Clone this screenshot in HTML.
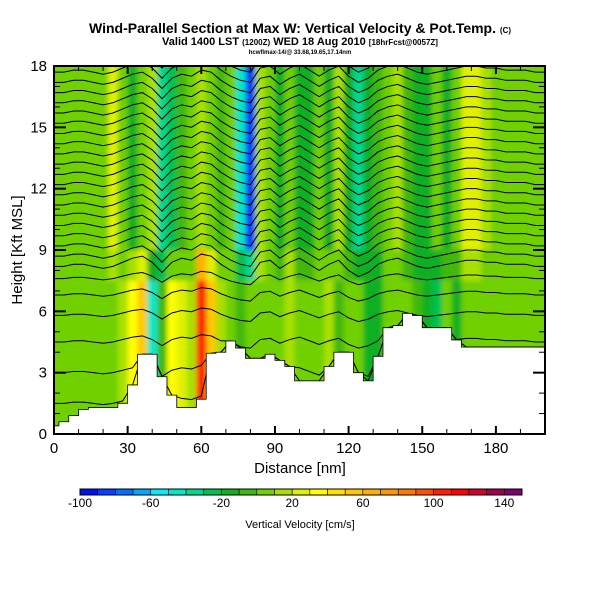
<!DOCTYPE html>
<html><head><meta charset="utf-8"><style>
body{margin:0;background:#fff;width:600px;height:600px;overflow:hidden;font-family:"Liberation Sans",sans-serif}
</style></head><body>
<svg id="chart" width="600" height="600" xmlns="http://www.w3.org/2000/svg">
<text x="300" y="33" text-anchor="middle" font-size="14" font-weight="bold">Wind-Parallel Section at Max W: Vertical Velocity &amp; Pot.Temp. <tspan font-size="8">(C)</tspan></text>
<text x="300" y="45" text-anchor="middle" font-size="11" font-weight="bold">Valid 1400 LST <tspan font-size="8">(1200Z)</tspan> WED 18 Aug 2010 <tspan font-size="8">[18hrFcst@0057Z]</tspan></text>
<text x="300" y="54" text-anchor="middle" font-size="6" font-weight="bold">hcwflmax-14/@ 33.68,19.65,17.14nm</text>
<defs><clipPath id="pc"><rect x="54" y="66" width="491" height="368"/></clipPath>
<filter id="bl"><feGaussianBlur stdDeviation="2.5"/></filter></defs>
<g id="field" clip-path="url(#pc)" filter="url(#bl)"></g>
<g id="contours" clip-path="url(#pc)"></g>
<g id="terrain" clip-path="url(#pc)"></g>
<rect x="54" y="66" width="491" height="368" fill="none" stroke="#000" stroke-width="2"/>
<g id="axes"></g>
<text x="300" y="473" text-anchor="middle" font-size="15">Distance [nm]</text>
<text transform="translate(22,250) rotate(-90)" text-anchor="middle" font-size="15">Height [Kft MSL]</text>
<g id="cbar"></g>
<text x="300" y="528" text-anchor="middle" font-size="11">Vertical Velocity [cm/s]</text>
</svg>
<script>
const distances=[0,4,8,12,16,20,24,28,32,36,40,44,48,52,56,60,64,68,72,76,80,84,88,92,96,100,104,108,112,116,120,124,128,132,136,140,144,148,152,156,160,164,168,172,176,180,184,188,192,196,200];
const terrainKft=[0.4,0.6,0.9,1.2,1.3,1.3,1.3,1.5,2.4,3.9,3.9,2.8,1.9,1.3,1.3,1.7,3.95,4.0,4.55,4.2,3.7,3.7,3.9,3.6,3.3,2.6,2.6,2.6,3.3,4.0,4.0,3.0,2.6,3.8,5.2,5.3,5.9,5.8,5.2,5.2,5.2,4.6,4.25,4.25,4.25,4.25,4.25,4.25,4.25,4.25,4.25];
const upperW=[0,0,5,0,5,5,20,0,-15,0,15,-40,-25,-10,0,15,5,-10,0,-50,-85,15,0,-15,5,-15,-20,0,-15,15,-15,-35,-15,-10,5,10,-10,-15,-15,0,-15,5,20,20,15,5,0,0,5,0,0];
const lowerW=[5,5,0,5,5,0,5,15,35,50,-50,-10,35,25,15,105,50,15,0,-10,5,5,0,5,15,0,0,5,15,-10,5,0,-15,-15,0,5,0,-10,-15,-25,0,-15,0,5,0,5,0,5,0,5,0];
const thetaLevels=[1.5,3,4.5,5.8,6.8,7.6,8.2,8.7,9.2,9.7,10.2,10.7,11.2,11.7,12.2,12.7,13.2,13.7,14.2,14.7,15.2,15.7,16.2,16.7,17.2,17.7,18.2];
const thetaWiggle=[0,0,0.1,0.1,0,-0.1,0,0.2,0.4,0.5,0.2,-0.3,0.2,0.4,0.3,0.6,0.5,0.1,-0.2,-0.4,-0.5,0.2,0.3,-0.1,0.2,0.4,0.1,-0.2,0.1,0.3,-0.2,-0.5,-0.3,0.1,0.3,0.4,0.2,0,-0.1,0,0.1,0.2,0.3,0.3,0.2,0.2,0.1,0.1,0.1,0,0];
const cbarTicks=[-100,-60,-20,20,60,100,140];
const xTicks=[0,30,60,90,120,150,180];
const yTicks=[0,3,6,9,12,15,18];
const colors=['#0010f0','#0040ff','#0070ff','#00a8ff','#00f0ff','#00e8c8','#00d890','#00c050','#10b020','#40b810','#70d000','#a8e000','#e0f000','#ffff00','#ffe000','#ffc800','#ffb000','#ff9800','#ff7800','#ff5000','#ff2000','#ff0000','#d00030','#a00050','#800070'];
const NS='http://www.w3.org/2000/svg';
const X=d=>54+d*491/200, Y=h=>434-h*368/18;
function col(v){let i=Math.floor((v+100)/10);return colors[Math.max(0,Math.min(24,i))];}
function mk(t,a,p){const e=document.createElementNS(NS,t);for(const k in a)e.setAttribute(k,a[k]);p.appendChild(e);return e;}
const field=document.getElementById('field');
const dw=491/200*4;
distances.forEach((d,i)=>{
  const x=X(d)-dw/2;
  let r=mk('rect',{x:x,y:Y(18.5),width:dw+0.5,height:Y(9)-Y(18.5),fill:col(upperW[i])},field);
  
  
  let m=mk('rect',{x:x,y:Y(9),width:dw+0.5,height:Y(7.5)-Y(9),fill:col((upperW[i]+lowerW[i])/2)},field);
  
  
  let l=mk('rect',{x:x,y:Y(7.5),width:dw+0.5,height:Y(-1)-Y(7.5),fill:col(lowerW[i])},field);
  
  
});
const cg=document.getElementById('contours');
thetaLevels.forEach(lv=>{
  const amp=lv<8?0.6:1;
  const pts=distances.map((d,i)=>X(d)+','+Y(Math.max(lv+thetaWiggle[i]*amp,terrainKft[i]))).join(' ');
  const p=mk('polyline',{points:pts,fill:'none',stroke:'#000','stroke-width':1},cg);
  
  
});
const tg=document.getElementById('terrain');
let tp='M'+X(0)+','+Y(-1);
distances.forEach((d,i)=>{tp+=' L'+(X(d)-dw/2)+','+Y(terrainKft[i])+' L'+(X(d)+dw/2)+','+Y(terrainKft[i]);});
tp+=' L'+X(202)+','+Y(-1)+' Z';
const tpe=mk('path',{d:tp,fill:'#fff',stroke:'#000','stroke-width':0.8},tg);


const ax=document.getElementById('axes');
for(let d=0;d<=200;d+=10){const maj=d%30==0;
  mk('line',{x1:X(d),x2:X(d),y1:434,y2:434-(maj?8:5),stroke:'#000','stroke-width':maj?2:1},ax);
  mk('line',{x1:X(d),x2:X(d),y1:66,y2:66+(maj?8:5),stroke:'#000','stroke-width':maj?2:1},ax);}
for(let h=0;h<=18;h++){const maj=h%3==0;
  mk('line',{x1:54,x2:54+(maj?12:6),y1:Y(h),y2:Y(h),stroke:'#000','stroke-width':maj?2:1},ax);
  mk('line',{x1:545,x2:545-(maj?12:6),y1:Y(h),y2:Y(h),stroke:'#000','stroke-width':maj?2:1},ax);}
xTicks.forEach(t=>{const e=mk('text',{x:X(t),y:453,'text-anchor':'middle','font-size':15},ax);e.textContent=t;
  
  });
yTicks.forEach(t=>{const e=mk('text',{x:47,y:Y(t)+5,'text-anchor':'end','font-size':15},ax);e.textContent=t;
  
  });
const cb=document.getElementById('cbar');
const cw=442/25;
colors.forEach((c,i)=>{const r=mk('rect',{x:80+i*cw,y:489,width:cw,height:6,fill:c,stroke:'#000','stroke-width':0.6},cb);
  
  });
mk('rect',{x:80,y:489,width:442,height:6,fill:'none',stroke:'#000','stroke-width':1},cb);
cbarTicks.forEach(t=>{const e=mk('text',{x:80+(t+100)/10*cw,y:507,'text-anchor':'middle','font-size':12},cb);e.textContent=t;
  
  });
</script>
</body></html>
